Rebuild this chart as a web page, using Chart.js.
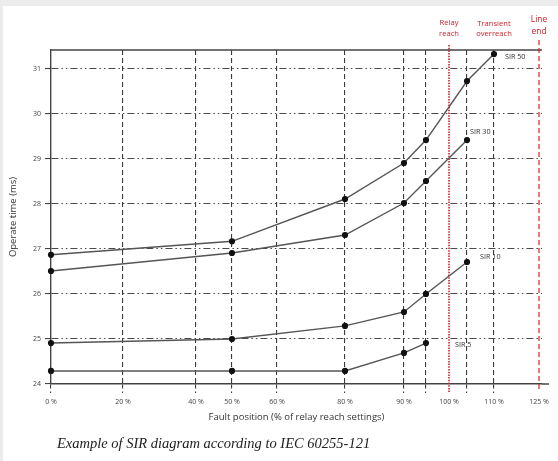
<!DOCTYPE html>
<html>
<head>
<meta charset="utf-8">
<script src="https://cdn.jsdelivr.net/npm/chart.js@4.4.1/dist/chart.umd.min.js"></script>
<style>
  html, body { margin: 0; padding: 0; background: #ececec; }
  #wrap { position: absolute; left: 3px; top: 6px; width: 555px; height: 455px; background: #fff; }
  #box { position: absolute; left: -3px; top: -6px; width: 558px; height: 461px; }
  #caption {
    position: absolute; left: 54px; top: 429px;
    font: italic 14.5px "Liberation Serif", "Times New Roman", serif; color: #222;
  }
</style>
</head>
<body>
<div id="wrap">
  <div id="box"><canvas id="sirChart"></canvas></div>
  <div id="caption">Example of SIR diagram according to IEC 60255-121</div>
</div>
<script>
// SIR diagram - operate time vs fault position

// x axis: fault position (% of relay reach)
const tickValues = [0, 20, 40, 50, 60, 80, 90, 95, 100, 105, 110, 125];
const tickLabels = ['0 %', '20 %', '40 %', '50 %', '60 %', '80 %', '90 %', '', '100 %', '', '110 %', '125 %'];
const yTicks = [24, 25, 26, 27, 28, 29, 30, 31];

// series (x = fault position %, y = operate time ms)
const sir50X = [0, 50, 80, 90, 95, 105, 110];
const sir50Y = [26.87, 27.17, 28.11, 28.91, 29.42, 30.73, 31.33];
const sir30X = [0, 50, 80, 90, 95, 105];
const sir30Y = [26.51, 26.91, 27.31, 28.02, 28.51, 29.42];
const sir10X = [0, 50, 80, 90, 95, 105];
const sir10Y = [24.91, 25.0, 25.29, 25.6, 26.0, 26.71];
const sir5X = [0, 50, 80, 90, 95];
const sir5Y = [24.29, 24.29, 24.29, 24.69, 24.91];
const seriesNames = ['SIR 50', 'SIR 30', 'SIR 10', 'SIR 5'];

// reference lines
const relayReach = 100;
const lineEnd = 125;

const RED = '#d0202a';

/**
 * Linear scale with uneven spacing between given break values
 */
class PiecewiseScale extends Chart.LinearScale {
    static id = 'piecewise';
    static defaults = Chart.LinearScale.defaults;

    toDecimal(value) {
        const b = this.options.breaks;
        if (value <= b[0][0]) return b[0][1];
        for (let i = 1; i < b.length; i++) {
            if (value <= b[i][0]) {
                const t = (value - b[i - 1][0]) / (b[i][0] - b[i - 1][0]);
                return b[i - 1][1] + t * (b[i][1] - b[i - 1][1]);
            }
        }
        return b[b.length - 1][1];
    }

    getPixelForValue(value) {
        return value === null ? NaN : this.getPixelForDecimal(this.toDecimal(value));
    }

    getValueForPixel(pixel) {
        const d = this.getDecimalForPixel(pixel);
        const b = this.options.breaks;
        for (let i = 1; i < b.length; i++) {
            if (d <= b[i][1]) {
                const t = (d - b[i - 1][1]) / (b[i][1] - b[i - 1][1]);
                return b[i - 1][0] + t * (b[i][0] - b[i - 1][0]);
            }
        }
        return b[b.length - 1][0];
    }
}
Chart.register(PiecewiseScale);

function makeDataset(label, xs, ys) {
    return {
        label: label,
        data: xs.map((x, i) => ({ x: x, y: ys[i] })),
        borderColor: '#555',
        borderWidth: 1.4,
        pointBackgroundColor: '#111',
        pointBorderColor: '#111',
        pointRadius: 2.4,
        tension: 0,
        clip: false
    };
}

// label offsets from last point of each series
const labelOffsets = [[11, 3], [3, -8], [13, -5], [29, 2]];

const annotations = {
    id: 'annotations',
    beforeDatasetsDraw(chart) {
        const { ctx, chartArea, scales } = chart;
        const x = scales.x;
        const y0 = scales.y.getPixelForValue(24);
        ctx.save();
        // top border
        ctx.strokeStyle = '#444';
        ctx.lineWidth = 1.3;
        ctx.beginPath();
        ctx.moveTo(chartArea.left, chartArea.top);
        ctx.lineTo(chartArea.right, chartArea.top);
        // axis extension
        ctx.moveTo(chartArea.right, y0);
        ctx.lineTo(chartArea.right + 7, y0);
        ctx.stroke();

        // relay reach (dotted) and line end (dashed)
        ctx.strokeStyle = RED;
        ctx.lineWidth = 1.6;
        ctx.setLineDash([1.5, 1.2]);
        let px = x.getPixelForValue(relayReach);
        ctx.beginPath();
        ctx.moveTo(px, chartArea.top - 5);
        ctx.lineTo(px, y0 + 8);
        ctx.stroke();
        ctx.setLineDash([5, 3]);
        ctx.lineWidth = 1.2;
        px = x.getPixelForValue(lineEnd);
        ctx.beginPath();
        ctx.moveTo(px, chartArea.top - 10);
        ctx.lineTo(px, y0 + 8);
        ctx.stroke();
        ctx.restore();
    },
    afterDatasetsDraw(chart) {
        const { ctx, chartArea, scales } = chart;
        const x = scales.x;
        ctx.save();
        ctx.fillStyle = RED;
        ctx.textAlign = 'center';
        ctx.textBaseline = 'middle';
        ctx.font = '7.6px "Open Sans"';
        let px = x.getPixelForValue(relayReach);
        ctx.fillText('Relay', px, chartArea.top - 27);
        ctx.fillText('reach', px, chartArea.top - 16);
        px = x.getPixelForValue(110);
        ctx.fillText('Transient', px, chartArea.top - 26);
        ctx.fillText('overreach', px, chartArea.top - 16);
        ctx.font = '8.5px "Open Sans"';
        px = x.getPixelForValue(lineEnd);
        ctx.fillText('Line', px, chartArea.top - 30);
        ctx.fillText('end', px, chartArea.top - 18);

        // series labels
        ctx.fillStyle = '#333';
        ctx.textAlign = 'left';
        ctx.font = '7.2px "Open Sans"';
        chart.data.datasets.forEach((ds, i) => {
            const meta = chart.getDatasetMeta(i);
            const last = meta.data[meta.data.length - 1];
            ctx.fillText(ds.label, last.x + labelOffsets[i][0], last.y + labelOffsets[i][1]);
        });
        ctx.restore();
    }
};

new Chart(document.getElementById('sirChart'), {
    type: 'line',
    data: {
        datasets: [
            makeDataset(seriesNames[0], sir50X, sir50Y),
            makeDataset(seriesNames[1], sir30X, sir30Y),
            makeDataset(seriesNames[2], sir10X, sir10Y),
            makeDataset(seriesNames[3], sir5X, sir5Y)
        ]
    },
    options: {
        responsive: true,
        maintainAspectRatio: false,
        animation: false,
        layout: { padding: { top: 50, right: 16, left: 0, bottom: 36 } },
        plugins: {
            legend: { display: false },
            tooltip: { enabled: false }
        },
        scales: {
            x: {
                type: 'piecewise',
                min: 0,
                max: 126,
                breaks: [[0, 0], [20, 0.1466], [40, 0.2953], [50, 0.3686], [60, 0.4603], [80, 0.5988],
                         [90, 0.7189], [95, 0.7637], [100, 0.8106], [105, 0.8473], [110, 0.9022],
                         [125, 0.9939], [126, 1]],
                afterBuildTicks: (scale) => { scale.ticks = tickValues.map(v => ({ value: v })); },
                afterFit: (scale) => { scale.height = 41; },
                ticks: {
                    autoSkip: false,
                    maxRotation: 0,
                    padding: 5,
                    color: '#444',
                    font: { family: 'Open Sans', size: 7 },
                    callback: (v, i) => tickLabels[i]
                },
                grid: {
                    color: (c) => (c.tick && [0, relayReach, lineEnd].includes(c.tick.value)) ? 'rgba(0,0,0,0)' : '#3a3a3a',
                    lineWidth: 1.1,
                    tickLength: 9,
                    tickColor: (c) => (c.tick && [relayReach, lineEnd].includes(c.tick.value)) ? 'rgba(0,0,0,0)' : '#3a3a3a',
                    tickBorderDash: [4, 3]
                },
                border: { display: true, color: '#444', width: 1.4, dash: [5, 3] },
                title: {
                    display: true,
                    text: 'Fault position (% of relay reach settings)',
                    color: '#333',
                    font: { family: 'Open Sans', size: 9.5 },
                    padding: { top: 0, bottom: 2 }
                }
            },
            y: {
                min: 24,
                max: 31.42,
                afterBuildTicks: (scale) => { scale.ticks = yTicks.map(v => ({ value: v })); },
                afterFit: (scale) => { scale.width = 51; },
                ticks: {
                    padding: 4,
                    color: '#444',
                    font: { family: 'Open Sans', size: 7 },
                    callback: (v) => String(v)
                },
                grid: {
                    color: (c) => (c.tick && c.tick.value === 24) ? 'rgba(0,0,0,0)' : '#4a4a4a',
                    lineWidth: 1.1,
                    tickLength: 6,
                    tickColor: '#444',
                    tickBorderDash: []
                },
                border: { display: true, color: '#444', width: 1.4, dash: [7, 3, 1.5, 3, 1.5, 3] },
                title: {
                    display: true,
                    text: 'Operate time (ms)',
                    color: '#333',
                    font: { family: 'Open Sans', size: 9.5 },
                    padding: { top: 8, bottom: 0 }
                }
            }
        }
    },
    plugins: [annotations]
});
</script>
</body>
</html>
